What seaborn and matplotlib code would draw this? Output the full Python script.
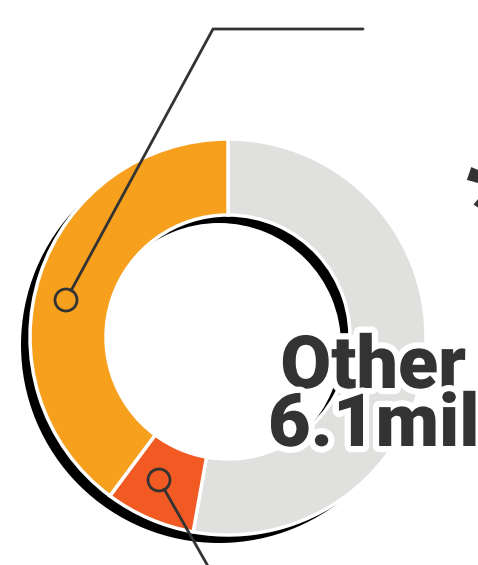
import matplotlib
matplotlib.use("Agg")
import matplotlib.pyplot as plt
import matplotlib.patheffects as pe
import seaborn as sns

# ----------------- data -----------------
segments = ["Other", "Small", "Large"]
values = [6.1, 0.85, 4.6]          # mil
colors = ["#e0e0de", "#f15a22", "#f7a01e"]
label_top = "Other"
label_bottom = "6.1mil"
# ----------------------------------------

sns.set_theme(style="white")
plt.rcParams["font.family"] = ["Roboto", "DejaVu Sans"]

W, H = 478, 565
fig = plt.figure(figsize=(W / 100, H / 100), dpi=100)
ax = fig.add_axes([0, 0, 1, 1])
ax.set_xlim(0, W)
ax.set_ylim(0, H)
ax.set_aspect("equal")
ax.axis("off")

cx, cy = 228, 228
R, ring = 198, 76

# black drop shadow ring, shifted down-left
ax.pie([1], colors=["black"], center=(cx - 9, cy - 8), radius=R,
       wedgeprops=dict(width=ring, linewidth=0), startangle=90)

# main donut
ax.pie(values, colors=colors, center=(cx, cy), radius=R, startangle=90,
       counterclock=False,
       wedgeprops=dict(width=ring, edgecolor="white", linewidth=2.5))

ax.set_xlim(0, W)
ax.set_ylim(0, H)

# callouts
line_c = "#333333"
ax.plot([66, 213, 363], [H - 300, H - 29, H - 29], color=line_c, lw=2,
        solid_joinstyle="miter", zorder=5)
ax.plot([159, 213], [H - 480, H - 575], color=line_c, lw=2, zorder=5)
for px, py in [(66, 300), (159, 480)]:
    ax.add_patch(plt.Circle((px, H - py), 11, facecolor="none",
                            edgecolor=line_c, lw=2, zorder=6))
# hide the line inside the circle with the slice colour
for px, py, c in [(66, 300, colors[2]), (159, 480, colors[1])]:
    ax.add_patch(plt.Circle((px, H - py), 9.5, facecolor=c,
                            edgecolor="none", zorder=5.5))

# label
stroke = [pe.withStroke(linewidth=9, foreground="white")]
ax.text(466, H - 388, label_top, ha="right", va="baseline", fontsize=53,
        fontweight="black", color="#333333", path_effects=stroke, zorder=8)
ax.text(268, H - 446, label_bottom, ha="left", va="baseline", fontsize=53,
        fontweight="black", color="#333333", path_effects=stroke, zorder=8)

# clipped asterisk at right edge
ax.text(496, H - 250, "*", ha="center", va="baseline", fontsize=100,
        fontweight="black", color="#333333", zorder=8)

fig.savefig("out.png", dpi=100)
